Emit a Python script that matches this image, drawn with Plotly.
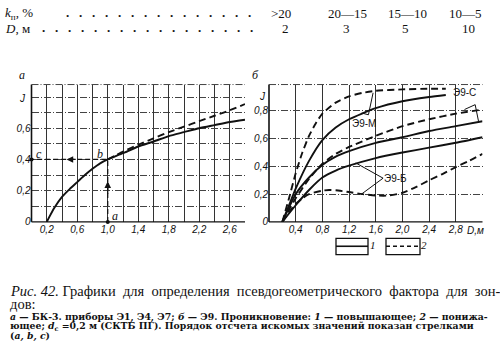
import plotly.graph_objects as go

W, H = 500, 355

# ---------------- data ----------------
# top table
KP_LABELS = [">20", "20—15", "15—10", "10—5"]
D_VALUES = ["2", "3", "5", "10"]

# panel а (БК-3)
D_A = [0.2, 0.3, 0.4, 0.5, 0.6, 0.7, 0.8, 0.9, 1.0, 1.2, 1.4, 1.6, 1.8, 2.0, 2.2, 2.4, 2.6, 2.8]
J_A_SOLID = [0.0, 0.09, 0.16, 0.21, 0.255, 0.30, 0.34, 0.375, 0.40, 0.44, 0.483, 0.515, 0.55, 0.575, 0.60, 0.62, 0.64, 0.655]
D_A_DASH = [1.0, 1.1, 1.2, 1.4, 1.6, 1.8, 2.0, 2.2, 2.4, 2.6, 2.8]
J_A_DASH = [0.40, 0.425, 0.45, 0.495, 0.535, 0.575, 0.61, 0.645, 0.68, 0.715, 0.755]
EXAMPLE_D = 1.0
EXAMPLE_J = 0.4

# panel б (Э9)
D_M_DASH = [0.2, 0.3, 0.4, 0.5, 0.6, 0.7, 0.8, 1.0, 1.2, 1.4, 1.6, 2.0, 2.4, 2.65]
J_M_DASH = [0.0, 0.17, 0.35, 0.50, 0.62, 0.71, 0.78, 0.86, 0.905, 0.93, 0.945, 0.955, 0.96, 0.96]
D_M_SOLID = [0.2, 0.3, 0.4, 0.6, 0.8, 1.0, 1.2, 1.6, 2.0, 2.4, 2.65]
J_M_SOLID = [0.0, 0.12, 0.24, 0.44, 0.59, 0.68, 0.74, 0.82, 0.87, 0.90, 0.915]
D_C = [0.2, 0.4, 0.6, 0.8, 1.0, 1.2, 1.6, 2.0, 2.4, 2.8, 3.2]
J_C_DASH = [0.0, 0.17, 0.31, 0.42, 0.49, 0.54, 0.62, 0.69, 0.74, 0.78, 0.81]
J_C_SOLID = [0.0, 0.20, 0.32, 0.41, 0.47, 0.51, 0.57, 0.61, 0.655, 0.69, 0.725]
D_B_SOLID = [0.2, 0.4, 0.6, 0.8, 1.0, 1.2, 1.6, 2.0, 2.4, 2.8, 3.2]
J_B_SOLID = [0.0, 0.12, 0.23, 0.32, 0.37, 0.405, 0.46, 0.50, 0.535, 0.57, 0.61]
D_B_DASH = [0.2, 0.3, 0.4, 0.5, 0.6, 0.8, 0.9, 1.0, 1.2, 1.4, 1.6, 1.8, 2.0, 2.2, 2.4, 2.6, 2.8, 3.0, 3.2]
J_B_DASH = [0.0, 0.07, 0.13, 0.17, 0.20, 0.225, 0.23, 0.228, 0.215, 0.20, 0.19, 0.19, 0.21, 0.25, 0.30, 0.345, 0.395, 0.44, 0.49]

X_TICKS_A = [0.2, 0.6, 1.0, 1.4, 1.8, 2.2, 2.6]
Y_TICKS_A = [0, 0.2, 0.4, 0.6]
X_TICKS_B = [0.4, 0.8, 1.2, 1.6, 2.0, 2.4, 2.8]
Y_TICKS_B = [0, 0.2, 0.4, 0.6, 0.8]


def fmt(v):
    return "0" if abs(v) < 1e-9 else ("%.1f" % v).replace(".", ",")


def px(x):
    return x / W


def py(y):
    return 1 - y / H


fig = go.Figure()
BLACK = "#111"
LW = 1.9
DASH = "7px,4px"


def curve(x, y, xa, ya, dash=None):
    fig.add_trace(go.Scatter(x=x, y=y, xaxis=xa, yaxis=ya, mode="lines",
                             line=dict(color=BLACK, width=LW, dash=dash, shape="spline", smoothing=0.6),
                             showlegend=False, hoverinfo="skip"))


curve(D_A, J_A_SOLID, "x", "y")
curve(D_A_DASH, J_A_DASH, "x", "y", DASH)
# reading guide (a -> b -> c)
fig.add_trace(go.Scatter(x=[EXAMPLE_D, EXAMPLE_D, 0], y=[0, EXAMPLE_J, EXAMPLE_J], xaxis="x", yaxis="y",
                         mode="lines", line=dict(color=BLACK, width=1.2, dash="5px,3px"),
                         showlegend=False, hoverinfo="skip", cliponaxis=False))
fig.add_trace(go.Scatter(x=[EXAMPLE_D, 0], y=[0, EXAMPLE_J], xaxis="x", yaxis="y", mode="markers",
                         marker=dict(color=BLACK, size=4), showlegend=False, hoverinfo="skip", cliponaxis=False))

curve(D_M_DASH, J_M_DASH, "x2", "y2", DASH)
curve(D_M_SOLID, J_M_SOLID, "x2", "y2")
curve(D_C, J_C_DASH, "x2", "y2", DASH)
curve(D_C, J_C_SOLID, "x2", "y2")
curve(D_B_SOLID, J_B_SOLID, "x2", "y2")
curve(D_B_DASH, J_B_DASH, "x2", "y2", DASH)

TICKFONT = dict(family="Liberation Sans", size=10, color=BLACK, style="italic")
GRID_V = "#333"
GRID_H = "#444"
HDASH = "7px,2px,1px,2px"


def frange(start, stop, step):
    n = int(round((stop - start) / step))
    return [round(start + i * step, 3) for i in range(n + 1)]


grid_xa = frange(0, 2.8, 0.2)
grid_xb = frange(0, 3.2, 0.4)
minor_ya = [0.1, 0.3, 0.5, 0.7, 0.8]


def ticktexts(grid, labels):
    return [fmt(g) if any(abs(g - l) < 1e-6 for l in labels) else "" for g in grid]


YDOM = [py(225.7), py(86)]
common = dict(showline=False, zeroline=False, showgrid=True, gridwidth=1,
              ticks="", tickfont=TICKFONT, tickmode="array", fixedrange=True)

fig.update_layout(
    width=W, height=H, margin=dict(l=0, r=0, t=0, b=0),
    paper_bgcolor="white", plot_bgcolor="white",
    xaxis=dict(domain=[px(31.5), px(245)], range=[0, 2.8], anchor="y", gridcolor=GRID_V,
               tickvals=grid_xa, ticktext=ticktexts(grid_xa, X_TICKS_A), **common),
    yaxis=dict(domain=YDOM, range=[0, 0.88], anchor="x", gridcolor=GRID_H, griddash=HDASH,
               tickvals=Y_TICKS_A, ticktext=[fmt(v) for v in Y_TICKS_A],
               minor=dict(tickmode="array", tickvals=minor_ya, showgrid=True, gridcolor=GRID_H,
                          griddash=HDASH, gridwidth=1, ticks=""),
               **common),
    xaxis2=dict(domain=[px(269), px(482.5)], range=[0, 3.2], anchor="y2", gridcolor=GRID_V,
                tickvals=grid_xb, ticktext=ticktexts(grid_xb, X_TICKS_B), **common),
    yaxis2=dict(domain=YDOM, range=[0, 0.99], anchor="x2", gridcolor=GRID_H, griddash=HDASH,
                tickvals=Y_TICKS_B, ticktext=[fmt(v) for v in Y_TICKS_B], **common),
)

shapes = []
# axis lines
for xr, yr in (("x", "y"), ("x2", "y2")):
    shapes.append(dict(type="line", xref=xr + " domain", yref=yr + " domain", x0=0, x1=0, y0=0, y1=1,
                       line=dict(color=BLACK, width=1.6)))
    shapes.append(dict(type="line", xref=xr + " domain", yref=yr + " domain", x0=0, x1=1, y0=0, y1=0,
                       line=dict(color=BLACK, width=1.4)))
    shapes.append(dict(type="line", xref=xr + " domain", yref=yr + " domain", x0=0, x1=1, y0=1, y1=1,
                       line=dict(color=GRID_H, width=1, dash=HDASH)))

# callouts panel б
callouts = [
    [(1.39, 0.785), (1.49, 0.772), (1.56, 0.93)],
    [(1.30, 0.425), (1.71, 0.315), (1.38, 0.198)],
    [(2.93, 0.81), (3.09, 0.845), (3.14, 0.726)],
]
for pts in callouts:
    for (x0, y0), (x1, y1) in zip(pts[:-1], pts[1:]):
        shapes.append(dict(type="line", xref="x2", yref="y2", x0=x0, y0=y0, x1=x1, y1=y1,
                           line=dict(color=BLACK, width=1)))

# legend boxes
for (l, r), dash in (((336, 368), None), ((386, 420), "4px,3px")):
    shapes.append(dict(type="rect", xref="paper", yref="paper", x0=px(l), x1=px(r), y0=py(259), y1=py(242.5),
                       line=dict(color=BLACK, width=1.3)))
    shapes.append(dict(type="line", xref="paper", yref="paper", x0=px(l), x1=px(r), y0=py(250.5), y1=py(250.5),
                       line=dict(color=BLACK, width=1.6, dash=dash)))
fig.update_layout(shapes=shapes)

ann = []
SERIF = "Liberation Serif"


def txt(x, y, s, size=13, anchor="left", family=SERIF, style="normal", weight="normal"):
    ann.append(dict(x=px(x), y=py(y), xref="paper", yref="paper", text=s, showarrow=False,
                    xanchor=anchor, yanchor="middle",
                    font=dict(family=family, size=size, color=BLACK, style=style, weight=weight)))


# top table
txt(3, 13.5, "<i>k</i><sub>п</sub>, %", 13)
txt(64, 13, ".&nbsp;&nbsp;&nbsp;" * 14 + ".", 13, weight="bold")
txt(3, 28.5, "<i>D</i>, м", 13)
txt(40, 28, ".&nbsp;&nbsp;&nbsp;" * 16 + ".", 13, weight="bold")
for cx, s in zip([281, 347, 407, 465], KP_LABELS):
    txt(cx, 13.5, s, 13, "center")
for cx, s in zip([285, 346, 405, 468], D_VALUES):
    txt(cx, 28.5, s, 13, "center")

# panel letters
txt(22, 76, "а", 12, "center", style="italic")
txt(255, 76, "б", 12, "center", style="italic")

# axis 'J' and D,м labels
txt(22, 100, "J", 10, "center", family="Liberation Sans", style="italic")
txt(262, 98, "J", 10, "center", family="Liberation Sans", style="italic")
txt(475, 234, "D,м", 10, "center", family="Liberation Sans", style="italic")

# point letters panel а
for x, y, s in ((1.1, 0.035, "a"), (0.9, 0.435, "b"), (0.1, 0.435, "c")):
    ann.append(dict(x=x, y=y, xref="x", yref="y", text=s, showarrow=False,
                    font=dict(family=SERIF, size=12, color=BLACK, style="italic")))
# arrowheads
ann.append(dict(x=EXAMPLE_D, y=0.26, ax=EXAMPLE_D, ay=0.17, xref="x", yref="y", axref="x", ayref="y",
                text="", showarrow=True, arrowhead=2, arrowsize=1.1, arrowwidth=1.2, arrowcolor=BLACK))
ann.append(dict(x=0.46, y=EXAMPLE_J, ax=0.6, ay=EXAMPLE_J, xref="x", yref="y", axref="x", ayref="y",
                text="", showarrow=True, arrowhead=2, arrowsize=1.1, arrowwidth=1.2, arrowcolor=BLACK))

# series labels panel б
for x, y, s in ((1.43, 0.708, "Э9-М"), (2.93, 0.93, "Э9-С"), (1.9, 0.31, "Э9-Б")):
    ann.append(dict(x=x, y=y, xref="x2", yref="y2", text=s, showarrow=False,
                    font=dict(family="Liberation Sans", size=10, color=BLACK)))

# legend labels
txt(373, 249, "1", 11, "center", style="italic")
txt(424, 249, "2", 11, "center", style="italic")

# caption
txt(8, 296, "<i>Рис. 42.</i> Графики  для  определения  псевдогеометрического  фактора  для  зон-", 14.5)
txt(8, 309.5, "дов:", 14.5)
SMALL = dict(size=9.3, family="DejaVu Serif", weight="bold")
txt(8, 322, "<i>а</i> — БК-3. приборы Э1, Э4, Э7; <i>б</i> — Э9. Проникновение: <i>1</i> — повышающее; <i>2</i> — понижа-", **SMALL)
txt(8, 332, "ющее; <i>d</i><sub>с</sub> =0,2 м (СКТБ ПГ). Порядок отсчета искомых значений показан стрелками", **SMALL)
txt(8, 342, "(<i>a, b, c</i>)", **SMALL)

fig.update_layout(annotations=ann)
fig.write_html("out.html")
